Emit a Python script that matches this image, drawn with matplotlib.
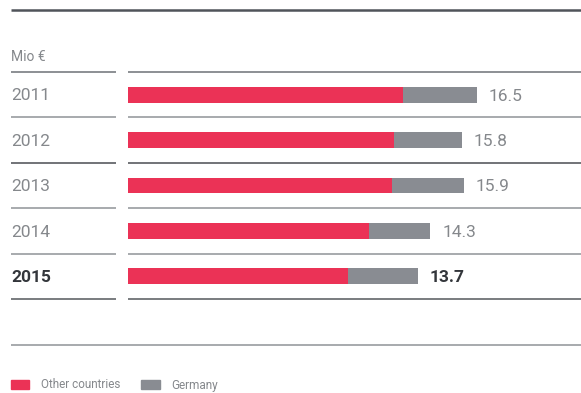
import matplotlib
matplotlib.use("Agg")
import matplotlib.pyplot as plt

years = ["2011", "2012", "2013", "2014", "2015"]
other_countries = [13.0, 12.6, 12.5, 11.4, 10.4]
germany = [3.5, 3.2, 3.4, 2.9, 3.3]
totals = [16.5, 15.8, 15.9, 14.3, 13.7]
unit_label = "Mio €"
legend_labels = ["Other countries", "Germany"]

RED = "#eb3256"
GREY = "#898c92"
TXT = "#85888c"
DARK = "#33363b"
FONT = ["Roboto", "DejaVu Sans"]

W, H = 581, 393
fig = plt.figure(figsize=(W / 100, H / 100), dpi=100)

# overlay in pixel units for rules and row labels
bg = fig.add_axes([0, 0, 1, 1])
bg.set_xlim(0, W)
bg.set_ylim(H, 0)
bg.axis("off")

bg.plot([11, 581], [10, 10], color="#50545a", lw=1.8, solid_capstyle="butt")
rules = [(72, "#6e7176"), (117, "#909397"), (163, "#4a4d52"),
         (208, "#909397"), (254, "#909397"), (299, "#55585d")]
for y, c in rules:
    bg.plot([11, 116], [y, y], color=c, lw=1.1, solid_capstyle="butt")
    bg.plot([128, 581], [y, y], color=c, lw=1.1, solid_capstyle="butt")
bg.plot([11, 581], [345, 345], color="#909397", lw=1.1, solid_capstyle="butt")

bg.text(11, 57, unit_label, fontsize=10, color=TXT, va="center", family=FONT)

row_h = 45.4
for i, yr in enumerate(years):
    last = i == len(years) - 1
    bg.text(11, 96 + i * row_h, yr, fontsize=12.5, va="center", family=FONT,
            color=DARK if last else TXT, weight="bold" if last else "normal")

# bars, drawn on their own value axis
x0, px_per_unit = 128, 21.15
ax = fig.add_axes([x0 / W, 1 - 299 / H, (W - x0) / W, (299 - 72) / H])
ax.set_xlim(0, (W - x0) / px_per_unit)
ax.set_ylim(len(years) - 0.5, -0.5)
ax.axis("off")
ypos = list(range(len(years)))
ax.barh(ypos, other_countries, height=0.35, color=RED)
ax.barh(ypos, germany, left=other_countries, height=0.35, color=GREY)
for i, t in enumerate(totals):
    last = i == len(totals) - 1
    ax.text(t + 0.55, i + 0.03, f"{t:.1f}", fontsize=12.5, va="center", family=FONT,
            color=DARK if last else TXT, weight="bold" if last else "normal")

# legend
bg.add_patch(plt.Rectangle((11, 380), 18, 9, color=RED))
bg.text(41, 385, legend_labels[0], fontsize=8.5, color=TXT, va="center", family=FONT)
bg.add_patch(plt.Rectangle((141, 380), 19, 9, color=GREY))
bg.text(171, 385, legend_labels[1], fontsize=8.5, color=TXT, va="center", family=FONT)

fig.savefig("out.png", dpi=100)
